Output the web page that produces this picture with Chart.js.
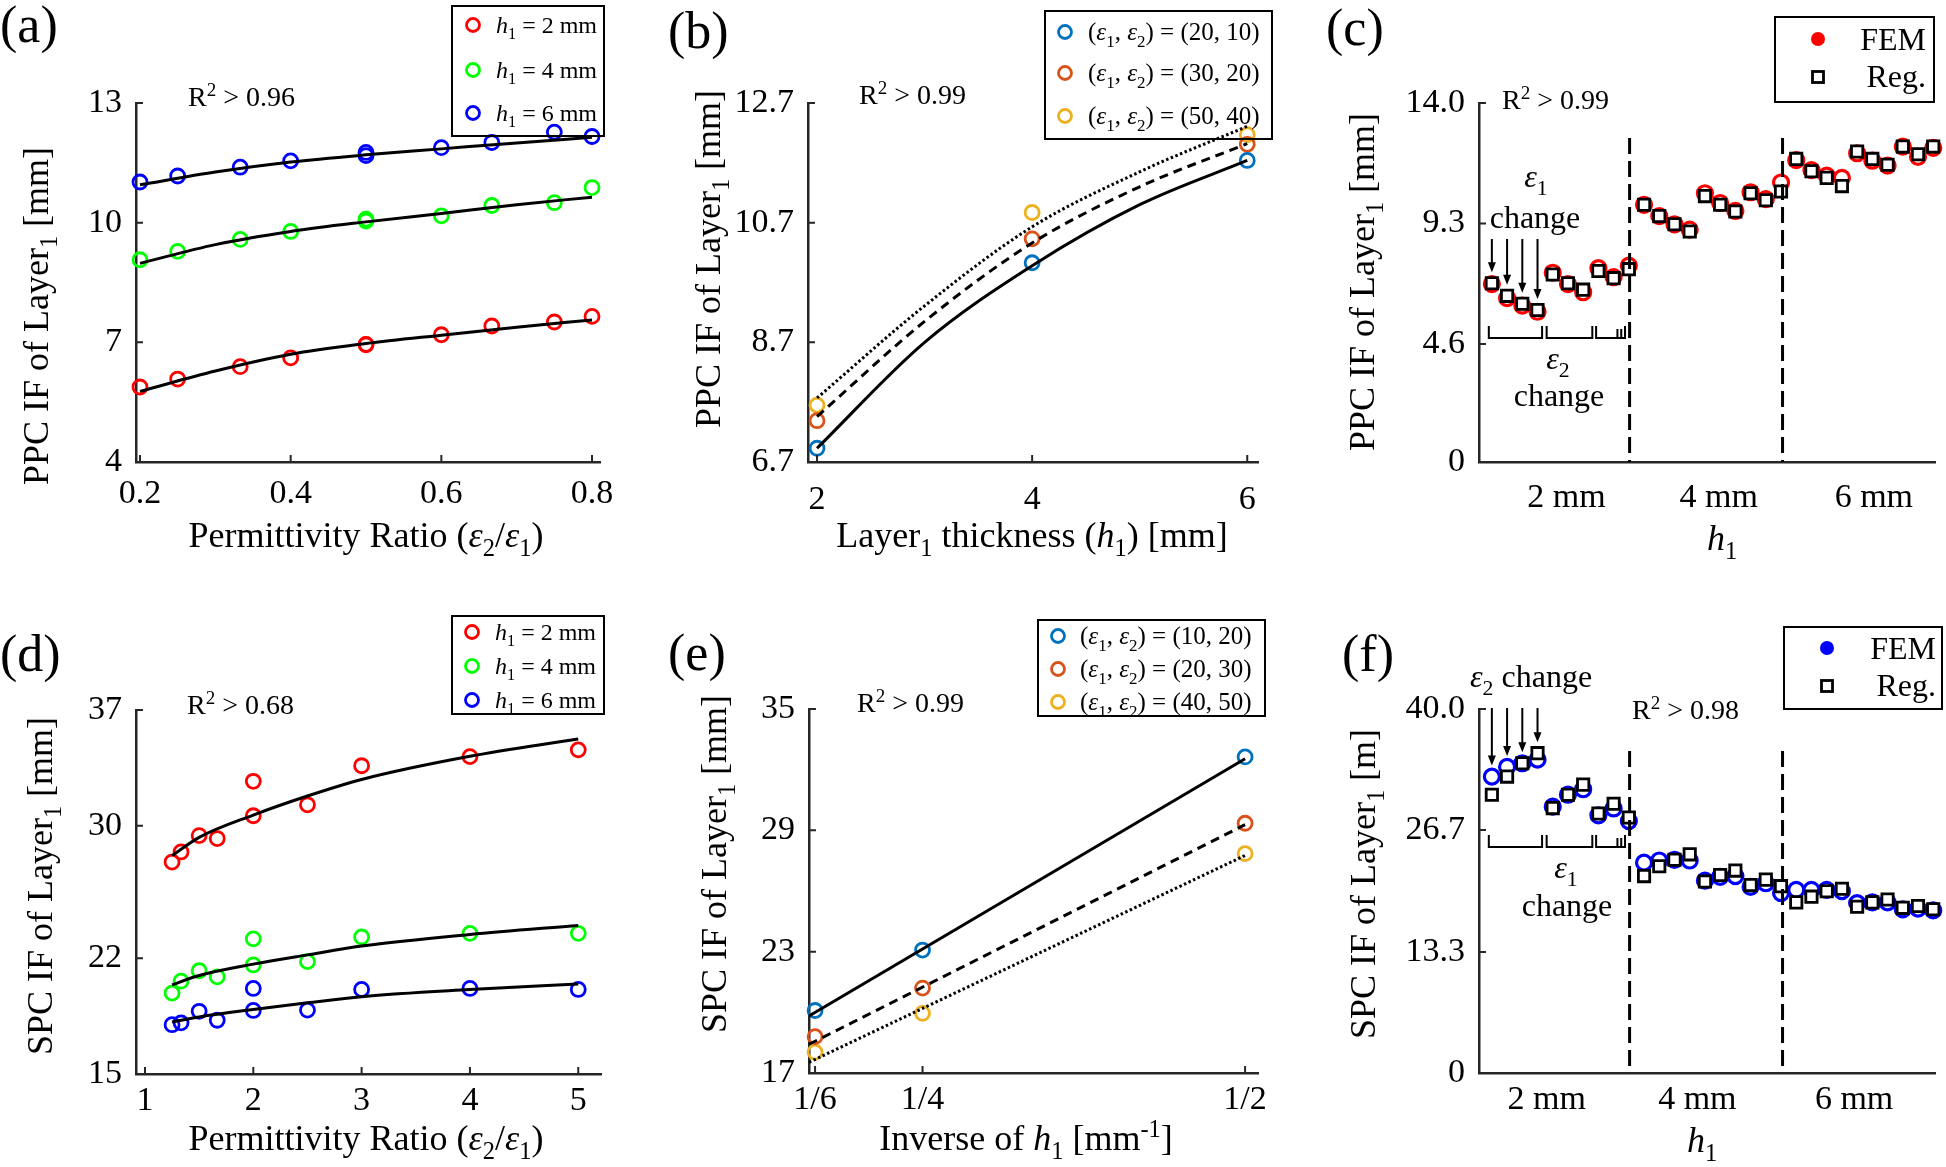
<!DOCTYPE html>
<html>
<head>
<meta charset="utf-8">
<script src="https://cdn.jsdelivr.net/npm/chart.js@4.4.1/dist/chart.umd.min.js"></script>
<style>
  body { margin: 0; background: #fff; width: 1946px; height: 1167px; overflow: hidden; position: relative; }
  canvas { position: absolute; }
</style>
</head>
<body>
<canvas id="pa"></canvas>
<canvas id="pb"></canvas>
<canvas id="pc"></canvas>
<canvas id="pd"></canvas>
<canvas id="pe"></canvas>
<canvas id="pf"></canvas>
<script>
// ---- data ----

// (a) PPC vs permittivity ratio
const ratioA = [0.2, 0.25, 0.333, 0.4, 0.5, 0.5, 0.6, 0.667, 0.75, 0.8];
const ppcA_h2 = [5.88, 6.08, 6.39, 6.61, 6.94, 6.95, 7.19, 7.41, 7.51, 7.65];
const ppcA_h4 = [9.07, 9.28, 9.58, 9.78, 10.04, 10.09, 10.17, 10.43, 10.50, 10.88];
const ppcA_h6 = [11.02, 11.17, 11.39, 11.55, 11.68, 11.76, 11.88, 12.01, 12.27, 12.16];
const fitA_x = [0.2, 0.3, 0.4, 0.5, 0.6, 0.7, 0.8];
const fitA_h2 = [5.77, 6.28, 6.70, 6.97, 7.18, 7.38, 7.56];
const fitA_h4 = [8.98, 9.45, 9.78, 10.02, 10.23, 10.45, 10.64];
const fitA_h6 = [10.95, 11.27, 11.52, 11.70, 11.85, 12.00, 12.14];

// (b) PPC vs layer thickness
const thickB = [2, 4, 6];
const ppcB_20_10 = [6.93, 10.03, 11.74];
const ppcB_30_20 = [7.39, 10.43, 12.01];
const ppcB_50_40 = [7.65, 10.87, 12.17];
const fitB_x = [2, 3, 4, 5, 6];
const fitB_20_10 = [6.93, 8.70, 9.98, 11.00, 11.74];
const fitB_30_20 = [7.46, 9.05, 10.36, 11.30, 12.02];
const fitB_50_40 = [7.77, 9.31, 10.63, 11.55, 12.31];

// (c) / (f) case index, grouped by h1
const caseIdx = [1, 2, 3, 4, 5, 6, 7, 8, 9, 10, 11, 12, 13, 14, 15, 16, 17, 18, 19, 20,
                 21, 22, 23, 24, 25, 26, 27, 28, 29, 30];
const ppcFEM = [6.94, 6.39, 6.10, 5.86, 7.38, 6.94, 6.62, 7.56, 7.21, 7.66,
                10.03, 9.59, 9.27, 9.06, 10.48, 10.10, 9.79, 10.52, 10.25, 10.90,
                11.77, 11.38, 11.17, 11.08, 12.04, 11.75, 11.56, 12.30, 11.90, 12.25];
const ppcReg = [6.97, 6.48, 6.17, 5.93, 7.31, 6.97, 6.72, 7.45, 7.17, 7.52,
                10.03, 9.59, 9.27, 8.99, 10.37, 10.03, 9.77, 10.48, 10.21, 10.55,
                11.82, 11.34, 11.08, 10.76, 12.11, 11.82, 11.59, 12.30, 12.00, 12.30];
const spcFEM = [32.57, 33.64, 34.04, 34.43, 29.27, 30.58, 31.18, 28.32, 29.07, 27.68,
                23.11, 23.35, 23.43, 23.35, 21.13, 21.56, 21.64, 20.45, 20.85, 19.78,
                20.13, 20.13, 20.13, 19.98, 18.67, 18.75, 18.75, 17.99, 18.07, 17.87];
const spcReg = [30.58, 32.57, 34.04, 35.15, 29.11, 30.58, 31.69, 28.52, 29.59, 28.08,
                21.64, 22.72, 23.43, 24.03, 21.05, 21.76, 22.24, 20.65, 21.25, 20.53,
                18.75, 19.38, 19.98, 20.25, 18.27, 18.75, 19.06, 18.15, 18.35, 17.99];

// (d) SPC vs permittivity ratio
const ratioD = [1.25, 1.333, 1.5, 1.667, 2, 2, 2.5, 3, 4, 5];
const spcD_h2 = [27.81, 28.42, 29.41, 29.23, 32.69, 30.61, 31.27, 33.63, 34.18, 34.59];
const spcD_h4 = [19.89, 20.61, 21.24, 20.87, 23.17, 21.59, 21.79, 23.28, 23.50, 23.50];
const spcD_h6 = [17.98, 18.09, 18.79, 18.25, 20.17, 18.84, 18.86, 20.11, 20.17, 20.11];
const fitD_x = [1.25, 1.5, 2, 2.5, 3, 4, 5];
const fitD_h2 = [28.2, 29.3, 30.65, 31.8, 32.8, 34.2, 35.25];
const fitD_h4 = [20.39, 20.95, 21.64, 22.2, 22.73, 23.43, 23.98];
const fitD_h6 = [18.14, 18.45, 18.9, 19.3, 19.67, 20.1, 20.44];

// (e) SPC vs inverse thickness
const invH = [0.1667, 0.25, 0.5];
const spcE_10_20 = [20.09, 23.08, 32.63];
const spcE_20_30 = [18.80, 21.20, 29.35];
const spcE_40_50 = [18.03, 19.95, 27.85];
const fitE_x = [0.162, 0.5];
const fitE_10_20 = [19.82, 32.54];
const fitE_20_30 = [18.42, 29.28];
const fitE_40_50 = [17.53, 27.76];

// tick values and labels
const ticksA_x = [0.2, 0.4, 0.6, 0.8];
const ticksA_y = [4, 7, 10, 13];
const ticksB_x = [2, 4, 6];
const ticksB_y = [6.7, 8.7, 10.7, 12.7];
const ticksC_y = [0, 4.6, 9.3, 14.0];
const labelsC_y = ['0', '4.6', '9.3', '14.0'];
const groupC_x = [5.9, 15.9, 26.1];
const groupLabels = ['2 mm', '4 mm', '6 mm'];
const ticksD_x = [1, 2, 3, 4, 5];
const ticksD_y = [15, 22, 30, 37];
const ticksE_x = [0.1667, 0.25, 0.5];
const labelsE_x = ['1/6', '1/4', '1/2'];
const ticksE_y = [17, 23, 29, 35];
const ticksF_y = [0, 13.3, 26.7, 40.0];
const labelsF_y = ['0', '13.3', '26.7', '40.0'];
const groupF_x = [4.6, 14.5, 24.8];

// ---- drawing helpers ----
const SERIF = '"Liberation Serif", "Times New Roman", serif';
const AXIS = '#262626';
const RED = '#ff0000', GREEN = '#00ff00', BLUE = '#0000ff';
const C1 = '#0072BD', C2 = '#D95319', C3 = '#EDB120';

// parts: [text, flags]  flags: i = italic, b = subscript, p = superscript
function txt(ctx, parts, x, y, size, align, rot) {
    ctx.save();
    ctx.translate(x, y);
    if (rot) ctx.rotate(rot);
    const segs = parts.map(p => {
        const f = p[1] || '';
        const small = f.includes('b') || f.includes('p');
        const s = small ? size * 0.68 : size;
        const font = (f.includes('i') ? 'italic ' : '') + s + 'px ' + SERIF;
        ctx.font = font;
        const dy = f.includes('b') ? size * 0.26 : (f.includes('p') ? -size * 0.36 : 0);
        return { t: p[0], font, dy, w: ctx.measureText(p[0]).width };
    });
    const total = segs.reduce((a, s) => a + s.w, 0);
    let cx = align === 'center' ? -total / 2 : (align === 'right' ? -total : 0);
    ctx.textAlign = 'left';
    ctx.textBaseline = 'alphabetic';
    ctx.fillStyle = '#000';
    segs.forEach(s => {
        ctx.font = s.font;
        ctx.fillText(s.t, cx, s.dy);
        cx += s.w;
    });
    ctx.restore();
}

function box(ctx, x0, y0, x1, y1) {
    ctx.strokeStyle = '#000';
    ctx.lineWidth = 2;
    ctx.strokeRect(x0, y0, x1 - x0, y1 - y0);
}

function ring(ctx, x, y, r, color, lw) {
    ctx.strokeStyle = color;
    ctx.lineWidth = lw;
    ctx.beginPath();
    ctx.arc(x, y, r, 0, Math.PI * 2);
    ctx.stroke();
}

function arrow(ctx, x, y0, y1) {
    ctx.strokeStyle = '#000';
    ctx.fillStyle = '#000';
    ctx.lineWidth = 2;
    ctx.beginPath();
    ctx.moveTo(x, y0);
    ctx.lineTo(x, y1 - 8);
    ctx.stroke();
    ctx.beginPath();
    ctx.moveTo(x - 4, y1 - 10);
    ctx.lineTo(x + 4, y1 - 10);
    ctx.lineTo(x, y1);
    ctx.closePath();
    ctx.fill();
}

function pts(xs, ys) {
    return xs.map((x, i) => ({ x: x, y: ys[i] }));
}

function rings(xs, ys, color) {
    return {
        data: pts(xs, ys), showLine: false, clip: false, order: 1,
        pointStyle: 'circle', pointRadius: 7, pointBorderWidth: 2.8,
        pointBorderColor: color, pointBackgroundColor: 'rgba(0,0,0,0)'
    };
}

function fit(xs, ys, dash) {
    return {
        data: pts(xs, ys), showLine: true, clip: false, order: 0,
        pointRadius: 0, borderColor: '#000', borderWidth: 3, borderDash: dash || [],
        cubicInterpolationMode: 'monotone'
    };
}

function femSet(ys, color) {
    return {
        data: pts(caseIdx, ys), showLine: false, clip: false, order: 1,
        pointStyle: 'circle', pointRadius: 7.5, pointBorderWidth: 3.2,
        pointBorderColor: color, pointBackgroundColor: '#fff'
    };
}

function regSet(ys) {
    return {
        data: pts(caseIdx, ys), showLine: false, clip: false, order: 0,
        pointStyle: 'rect', pointRadius: 8, pointBorderWidth: 2.8,
        pointBorderColor: '#000', pointBackgroundColor: '#fff'
    };
}

function axisOpts(d, fitFn) {
    return {
        type: 'linear', min: d.min, max: d.max,
        afterFit: fitFn,
        afterBuildTicks: s => { s.ticks = d.ticks.map(v => ({ value: v })); },
        grid: { display: false, drawTicks: false },
        border: { display: true, color: AXIS, width: 2.5 },
        ticks: {
            autoSkip: false, maxRotation: 0, minRotation: 0, padding: d.pad,
            color: '#000', font: { family: SERIF, size: 34 },
            callback: (v, i) => d.labels ? d.labels[i] : String(v)
        }
    };
}

function makePanel(id, bx, area, xs, ys, datasets, deco) {
    const cv = document.getElementById(id);
    cv.width = bx.w;
    cv.height = bx.h;
    cv.style.left = bx.x + 'px';
    cv.style.top = bx.y + 'px';
    const yW = area.l - bx.x;
    const xH = bx.y + bx.h - area.b;
    return new Chart(cv, {
        type: 'scatter',
        data: { datasets: datasets },
        options: {
            responsive: false, animation: false, events: [],
            layout: { padding: { top: area.t - bx.y, right: bx.x + bx.w - area.r, left: 0, bottom: 0 } },
            plugins: { legend: { display: false }, tooltip: { enabled: false } },
            scales: {
                x: axisOpts(xs, s => { s.height = xH; }),
                y: axisOpts(ys, s => { s.width = yW; })
            }
        },
        plugins: [{
            id: 'deco',
            afterDraw(chart) {
                const c = chart.ctx;
                const a = chart.chartArea;
                const sx = chart.scales.x, sy = chart.scales.y;
                // inward tick marks
                c.save();
                c.strokeStyle = AXIS;
                c.lineWidth = 2;
                c.beginPath();
                if (!xs.noMarks) {
                    sx.ticks.forEach(t => {
                        const p = sx.getPixelForValue(t.value);
                        c.moveTo(p, a.bottom);
                        c.lineTo(p, a.bottom - 7);
                    });
                }
                sy.ticks.forEach(t => {
                    const p = sy.getPixelForValue(t.value);
                    c.moveTo(a.left, p);
                    c.lineTo(a.left + 7, p);
                });
                c.stroke();
                c.translate(-bx.x, -bx.y);
                const X = v => sx.getPixelForValue(v) + bx.x;
                const Y = v => sy.getPixelForValue(v) + bx.y;
                deco(c, X, Y, { l: a.left + bx.x, r: a.right + bx.x, t: a.top + bx.y, b: a.bottom + bx.y });
                c.restore();
            }
        }]
    });
}

function hLegend(c, x0, y0, x1, y1, mx, tx, rows, colors, labels, size) {
    box(c, x0, y0, x1, y1);
    rows.forEach((ry, i) => {
        ring(c, mx, ry, 6.5, colors[i], 2.8);
        txt(c, labels[i], tx, ry + 8, size || 24, 'left');
    });
}

function femLegend(c, x0, y0, x1, y1, mx, tx, r1, r2, color) {
    box(c, x0, y0, x1, y1);
    c.fillStyle = color;
    c.beginPath();
    c.arc(mx, r1, 7, 0, Math.PI * 2);
    c.fill();
    c.strokeStyle = '#000';
    c.lineWidth = 2.8;
    c.strokeRect(mx - 5.5, r2 - 5.5, 11, 11);
    txt(c, [['FEM']], tx, r1 + 11, 32, 'right');
    txt(c, [['Reg.']], tx, r2 + 10, 32, 'right');
}

function groupMarks(c, X, A, xCut, yTop, yBr, ybTick) {
    // dashed separators between h1 groups
    c.strokeStyle = '#000';
    c.lineWidth = 3;
    c.setLineDash([16, 7]);
    c.beginPath();
    xCut.forEach(v => { c.moveTo(X(v), yTop); c.lineTo(X(v), A.b); });
    c.stroke();
    c.setLineDash([]);
    // brackets under the first group
    const spans = [[0.8, 4.3], [4.6, 7.6], [7.85, 9.75]];
    c.lineWidth = 2;
    c.beginPath();
    spans.forEach(s => {
        c.moveTo(X(s[0]), ybTick);
        c.lineTo(X(s[0]), yBr);
        c.lineTo(X(s[1]), yBr);
        c.lineTo(X(s[1]), ybTick);
    });
    [9.25, 9.5].forEach(v => { c.moveTo(X(v), ybTick + 3); c.lineTo(X(v), yBr); });
    c.stroke();
}

const hLab = n => [['h', 'i'], ['1', 'b'], [' = ' + n + ' mm']];
const epsLab = s => [['('], ['ε', 'i'], ['1', 'b'], [', '], ['ε', 'i'], ['2', 'b'], [') = ' + s]];
const ratioTitle = [['Permittivity Ratio ('], ['ε', 'i'], ['2', 'b'], ['/'], ['ε', 'i'], ['1', 'b'], [')']];

// ---- (a) ----
makePanel('pa', { x: 0, y: 0, w: 650, h: 590 }, { l: 136, t: 103, r: 600, b: 462 },
    { min: 0.1947, max: 0.8106, ticks: ticksA_x, pad: 12 },
    { min: 4, max: 13, ticks: ticksA_y, pad: 14 },
    [
        fit(fitA_x, fitA_h2), fit(fitA_x, fitA_h4), fit(fitA_x, fitA_h6),
        rings(ratioA, ppcA_h2, RED), rings(ratioA, ppcA_h4, GREEN), rings(ratioA, ppcA_h6, BLUE)
    ],
    (c, X, Y, A) => {
        txt(c, [['(a)']], 0, 42, 52, 'left');
        txt(c, [['R'], ['2', 'p'], [' > 0.96']], 188, 106, 28, 'left');
        txt(c, [['PPC IF of Layer'], ['1', 'b'], [' [mm]']], 48, 316, 36, 'center', -Math.PI / 2);
        txt(c, ratioTitle, 366, 547, 36, 'center');
        hLegend(c, 452, 6, 604, 136, 473, 496, [25, 70, 113], [RED, GREEN, BLUE], [hLab(2), hLab(4), hLab(6)]);
    });

// ---- (b) ----
makePanel('pb', { x: 650, y: 0, w: 660, h: 590 }, { l: 808, t: 103, r: 1258, b: 462 },
    { min: 1.916, max: 6.10, ticks: ticksB_x, pad: 18 },
    { min: 6.7, max: 12.7, ticks: ticksB_y, labels: ['6.7', '8.7', '10.7', '12.7'], pad: 14 },
    [
        fit(fitB_x, fitB_20_10), fit(fitB_x, fitB_30_20, [9, 6]), fit(fitB_x, fitB_50_40, [2.5, 2.5]),
        rings(thickB, ppcB_20_10, C1), rings(thickB, ppcB_30_20, C2), rings(thickB, ppcB_50_40, C3)
    ],
    (c, X, Y, A) => {
        txt(c, [['(b)']], 668, 48, 52, 'left');
        txt(c, [['R'], ['2', 'p'], [' > 0.99']], 859, 104, 28, 'left');
        txt(c, [['PPC IF of Layer'], ['1', 'b'], [' [mm]']], 720, 259, 36, 'center', -Math.PI / 2);
        txt(c, [['Layer'], ['1', 'b'], [' thickness ('], ['h', 'i'], ['1', 'b'], [') [mm]']], 1032, 547, 36, 'center');
        hLegend(c, 1045, 11, 1272, 139, 1065, 1088, [32, 73, 116], [C1, C2, C3],
            [epsLab('(20, 10)'), epsLab('(30, 20)'), epsLab('(50, 40)')], 25);
    });

// ---- (c) ----
makePanel('pc', { x: 1310, y: 0, w: 636, h: 590 }, { l: 1479, t: 103, r: 1940, b: 462 },
    { min: 0.155, max: 30.13, ticks: groupC_x, labels: groupLabels, pad: 16, noMarks: true },
    { min: 0, max: 14, ticks: ticksC_y, labels: labelsC_y, pad: 14 },
    [femSet(ppcFEM, RED), regSet(ppcReg)],
    (c, X, Y, A) => {
        txt(c, [['(c)']], 1326, 45, 52, 'left');
        txt(c, [['R'], ['2', 'p'], [' > 0.99']], 1502, 109, 28, 'left');
        txt(c, [['PPC IF of Layer'], ['1', 'b'], [' [mm]']], 1374, 282, 36, 'center', -Math.PI / 2);
        txt(c, [['h', 'i'], ['1', 'b']], 1722, 550, 36, 'center');
        groupMarks(c, X, A, [10.05, 20.1], 138, 338, 326);
        txt(c, [['ε', 'i'], ['1', 'b']], 1536, 187, 32, 'center');
        txt(c, [['change']], 1535, 228, 32, 'center');
        [0, 1, 2, 3].forEach(i => arrow(c, X(caseIdx[i]), 239, Y(Math.max(ppcFEM[i], ppcReg[i])) - 11));
        txt(c, [['ε', 'i'], ['2', 'b']], 1558, 369, 32, 'center');
        txt(c, [['change']], 1559, 406, 32, 'center');
        femLegend(c, 1775, 17, 1934, 102, 1818, 1926, 39, 77, RED);
    });

// ---- (d) ----
makePanel('pd', { x: 0, y: 590, w: 650, h: 577 }, { l: 136, t: 710, r: 601, b: 1074 },
    { min: 0.917, max: 5.21, ticks: ticksD_x, pad: 7 },
    { min: 15, max: 37, ticks: ticksD_y, pad: 14 },
    [
        fit(fitD_x, fitD_h2), fit(fitD_x, fitD_h4), fit(fitD_x, fitD_h6),
        rings(ratioD, spcD_h2, RED), rings(ratioD, spcD_h4, GREEN), rings(ratioD, spcD_h6, BLUE)
    ],
    (c, X, Y, A) => {
        txt(c, [['(d)']], 0, 671, 52, 'left');
        txt(c, [['R'], ['2', 'p'], [' > 0.68']], 187, 714, 28, 'left');
        txt(c, [['SPC IF of Layer'], ['1', 'b'], [' [mm]']], 52, 886, 36, 'center', -Math.PI / 2);
        txt(c, ratioTitle, 366, 1150, 36, 'center');
        hLegend(c, 452, 616, 604, 714, 472, 495, [632, 666, 700], [RED, GREEN, BLUE], [hLab(2), hLab(4), hLab(6)]);
    });

// ---- (e) ----
makePanel('pe', { x: 650, y: 590, w: 660, h: 577 }, { l: 809, t: 709, r: 1258, b: 1073 },
    { min: 0.162, max: 0.51, ticks: ticksE_x, labels: labelsE_x, pad: 7 },
    { min: 17, max: 35, ticks: ticksE_y, pad: 14 },
    [
        fit(fitE_x, fitE_10_20), fit(fitE_x, fitE_20_30, [9, 6]), fit(fitE_x, fitE_40_50, [2.5, 2.5]),
        rings(invH, spcE_10_20, C1), rings(invH, spcE_20_30, C2), rings(invH, spcE_40_50, C3)
    ],
    (c, X, Y, A) => {
        txt(c, [['(e)']], 668, 670, 52, 'left');
        txt(c, [['R'], ['2', 'p'], [' > 0.99']], 857, 712, 28, 'left');
        txt(c, [['SPC IF of Layer'], ['1', 'b'], [' [mm]']], 726, 864, 36, 'center', -Math.PI / 2);
        txt(c, [['Inverse of '], ['h', 'i'], ['1', 'b'], [' [mm'], ['-1', 'p'], [']']], 1026, 1150, 36, 'center');
        hLegend(c, 1038, 620, 1265, 716, 1058, 1080, [636, 669, 702], [C1, C2, C3],
            [epsLab('(10, 20)'), epsLab('(20, 30)'), epsLab('(40, 50)')], 25);
    });

// ---- (f) ----
makePanel('pf', { x: 1310, y: 590, w: 636, h: 577 }, { l: 1479, t: 709, r: 1940, b: 1073 },
    { min: 0.155, max: 30.13, ticks: groupF_x, labels: groupLabels, pad: 7, noMarks: true },
    { min: 0, max: 40, ticks: ticksF_y, labels: labelsF_y, pad: 14 },
    [femSet(spcFEM, BLUE), regSet(spcReg)],
    (c, X, Y, A) => {
        txt(c, [['(f)']], 1342, 671, 52, 'left');
        txt(c, [['R'], ['2', 'p'], [' > 0.98']], 1632, 719, 28, 'left');
        txt(c, [['SPC IF of Layer'], ['1', 'b'], [' [m]']], 1375, 884, 36, 'center', -Math.PI / 2);
        txt(c, [['h', 'i'], ['1', 'b']], 1702, 1152, 36, 'center');
        groupMarks(c, X, A, [10.05, 20.1], 751, 847, 835);
        txt(c, [['ε', 'i'], ['2', 'b'], [' change']], 1470, 687, 32, 'left');
        [0, 1, 2, 3].forEach(i => arrow(c, X(caseIdx[i]), 708, Y(Math.max(spcFEM[i], spcReg[i])) - 11));
        txt(c, [['ε', 'i'], ['1', 'b']], 1566, 878, 32, 'center');
        txt(c, [['change']], 1567, 916, 32, 'center');
        femLegend(c, 1784, 627, 1942, 709, 1827, 1936, 648, 686, BLUE);
    });
</script>
</body>
</html>
